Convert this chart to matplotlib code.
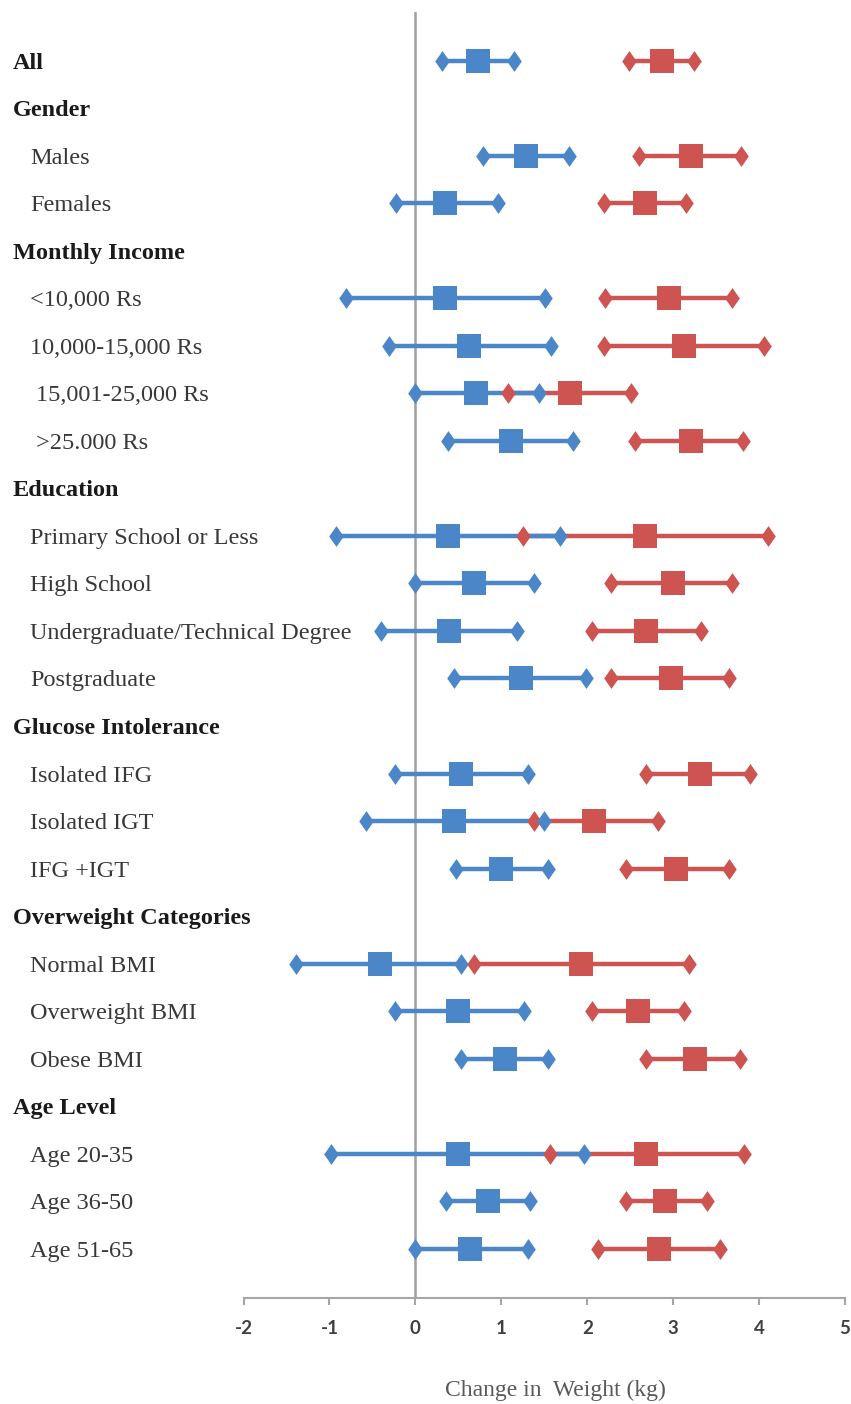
import numpy as np
import matplotlib
matplotlib.use("Agg")
import matplotlib.pyplot as plt
from matplotlib import transforms
from matplotlib.path import Path

# rows from top to bottom; group headings carry no estimates
row_labels = [
    "All", "Gender", "Males", "Females",
    "Monthly Income", "<10,000 Rs", "10,000-15,000 Rs", "15,001-25,000 Rs", ">25.000 Rs",
    "Education", "Primary School or Less", "High School",
    "Undergraduate/Technical Degree", "Postgraduate",
    "Glucose Intolerance", "Isolated IFG", "Isolated IGT", "IFG +IGT",
    "Overweight Categories", "Normal BMI", "Overweight BMI", "Obese BMI",
    "Age Level", "Age 20-35", "Age 36-50", "Age 51-65",
]
headings = ["All", "Gender", "Monthly Income", "Education", "Glucose Intolerance",
            "Overweight Categories", "Age Level"]

nan = np.nan
# change in weight (kg): estimate with lower / upper limits
blue_mean = [0.73, nan, 1.29, 0.35, nan, 0.34, 0.62, 0.71, 1.11, nan, 0.38, 0.68, 0.39, 1.23,
             nan, 0.53, 0.45, 1.00, nan, -0.41, 0.50, 1.04, nan, 0.50, 0.85, 0.63]
blue_lo = [0.31, nan, 0.79, -0.23, nan, -0.81, -0.31, 0.00, 0.38, nan, -0.92, 0.00, -0.40, 0.45,
           nan, -0.24, -0.58, 0.47, nan, -1.39, -0.24, 0.53, nan, -0.98, 0.36, 0.00]
blue_hi = [1.15, nan, 1.79, 0.96, nan, 1.51, 1.58, 1.44, 1.84, nan, 1.68, 1.38, 1.18, 1.99,
           nan, 1.31, 1.50, 1.54, nan, 0.53, 1.27, 1.54, nan, 1.96, 1.33, 1.31]

red_mean = [2.87, nan, 3.21, 2.67, nan, 2.95, 3.13, 1.80, 3.21, nan, 2.67, 3.00, 2.69, 2.97,
            nan, 3.31, 2.08, 3.03, nan, 1.93, 2.59, 3.25, nan, 2.69, 2.91, 2.83]
red_lo = [2.49, nan, 2.60, 2.19, nan, 2.21, 2.20, 1.08, 2.56, nan, 1.25, 2.28, 2.05, 2.28,
          nan, 2.68, 1.38, 2.45, nan, 0.68, 2.06, 2.68, nan, 1.57, 2.45, 2.12]
red_hi = [3.24, nan, 3.79, 3.15, nan, 3.68, 4.06, 2.51, 3.81, nan, 4.10, 3.68, 3.32, 3.65,
          nan, 3.89, 2.82, 3.65, nan, 3.18, 3.13, 3.78, nan, 3.83, 3.40, 3.55]

x_ticks = [-2, -1, 0, 1, 2, 3, 4, 5]

BLUE = "#4b87c8"
RED = "#cd5450"

# slightly narrow diamond for the interval ends
diamond = Path([(0, 1), (0.7, 0), (0, -1), (-0.7, 0), (0, 1)],
               [Path.MOVETO, Path.LINETO, Path.LINETO, Path.LINETO, Path.CLOSEPOLY])

fig = plt.figure(figsize=(8.51, 14.04), dpi=100)
ax = fig.add_axes([0.2862, 0.0755, 0.7067, 0.9160])

y = np.arange(len(row_labels))


def draw_series(mean, lo, hi, color, z):
    mean, lo, hi = np.array(mean), np.array(lo), np.array(hi)
    ok = ~np.isnan(mean)
    ax.hlines(y[ok], lo[ok], hi[ok], color=color, lw=3.2, zorder=z)
    ax.plot(lo[ok], y[ok], ls="none", marker=diamond, ms=15, mfc=color, mec=color,
            mew=0, zorder=z + 2)
    ax.plot(hi[ok], y[ok], ls="none", marker=diamond, ms=15, mfc=color, mec=color,
            mew=0, zorder=z + 2)
    ax.plot(mean[ok], y[ok], ls="none", marker="s", ms=17, mfc=color, mec=color,
            mew=0, zorder=z + 4)


draw_series(red_mean, red_lo, red_hi, RED, 3)
draw_series(blue_mean, blue_lo, blue_hi, BLUE, 4)

ax.axvline(0, color="#a0a0a0", lw=1.8, zorder=1)

ax.set_xlim(-2, 5)
ax.set_ylim(len(row_labels) - 1 + 1.04, -1.03)
ax.set_xticks(x_ticks)
ax.set_xticklabels([str(t) for t in x_ticks], fontfamily="Lato", fontweight="bold",
                   fontsize=13.5, color="#404040")
ax.tick_params(axis="x", direction="out", length=5, width=1.5, color="#a6a6a6", pad=11)
ax.set_yticks([])
for side in ["top", "right", "left"]:
    ax.spines[side].set_visible(False)
ax.spines["bottom"].set_color("#a6a6a6")
ax.spines["bottom"].set_linewidth(1.5)

# category labels sit in the left margin
trans = transforms.blended_transform_factory(fig.transFigure, ax.transData)
for i, lab in enumerate(row_labels):
    if lab in headings:
        ax.text(13 / 851, i, lab, transform=trans, ha="left", va="center_baseline",
                fontfamily="Liberation Serif", fontweight="bold", fontsize=17.5,
                color="#1a1a1a", clip_on=False)
    else:
        indent = 36 if lab in ("15,001-25,000 Rs", ">25.000 Rs") else 30
        ax.text(indent / 851, i, lab, transform=trans, ha="left", va="center_baseline",
                fontfamily="Liberation Serif", fontsize=17.5, color="#383838",
                clip_on=False)

fig.text(555 / 851, 1 - 1390 / 1404, "Change in  Weight (kg)", ha="center", va="center",
         fontfamily="Liberation Serif", fontsize=17, color="#595959")

fig.savefig("out.png", dpi=100)
